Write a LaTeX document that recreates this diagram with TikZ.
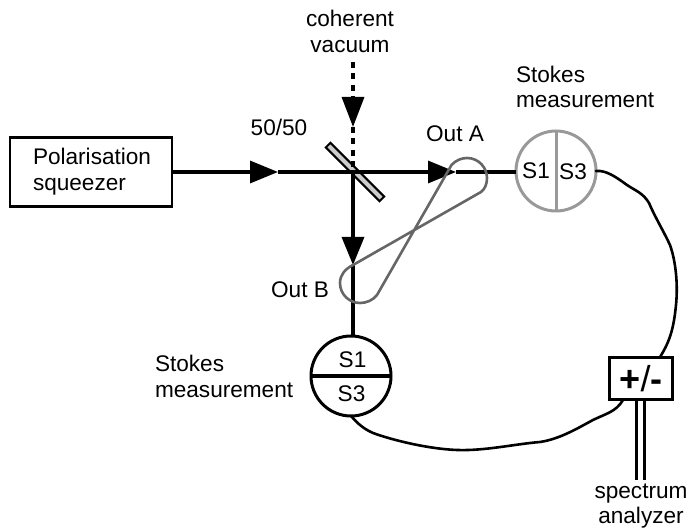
\documentclass[tikz,border=0pt]{standalone}
\usepackage{fontspec}
\setmainfont{Liberation Sans}
\usetikzlibrary{arrows.meta}
\definecolor{loopgray}{HTML}{666666}
\definecolor{detgray}{HTML}{999999}
\definecolor{bsgray}{HTML}{CCCCCC}
\tikzset{
  x=1pt,y=-1pt,
  txt/.style={inner sep=0pt,outer sep=0pt,font=\fontsize{22.6}{26}\selectfont},
  beam/.style={line width=3.3pt},
  tipped/.style={beam,-{Triangle[length=28pt,width=22pt,sep=0pt]}},
  cable/.style={line width=2.6pt,line cap=round},
  detector/.style={circle,minimum size=80pt,inner sep=0pt,outer sep=0pt,line width=3pt},
}
\begin{document}
\begin{tikzpicture}
\useasboundingbox (0,0) rectangle (689,529);
% elements
\node[draw,line width=2.4pt,minimum width=162pt,minimum height=69pt,inner sep=0pt,outer sep=0pt] (squeezer) at (91,172) {};
\node[txt,align=left,anchor=west] (sqtext) at (33,172) {Polarisation\\squeezer};
\node[draw,fill=bsgray,line width=2pt,minimum width=76pt,minimum height=6.5pt,inner sep=0pt,outer sep=0pt,rotate=-45] (bs) at (355,172) {};
\node[detector,draw=detgray] (detA) at (556,171) {};
\node[detector,draw=black] (detB) at (351,376) {};
\node[draw,line width=2.4pt,fill=white,minimum width=63pt,minimum height=42pt,inner sep=0pt,outer sep=0pt,font=\fontsize{36}{38}\selectfont] (diff) at (641,378.5) {\textbf{+}/\textbf{-}};
% named free ends
\coordinate (vacstart) at (353,62);
\coordinate (vactip) at (353,127);
\coordinate (bscentre) at (353,172);
\coordinate (tipone) at (278,172);
\coordinate (tipA) at (456,172);
\coordinate (tipB) at (353,265);
\coordinate (sa1) at (636.5,480);
\coordinate (sa2) at (644.5,480);
\coordinate (cabin) at (660,357);
% beams
\draw[beam,dash pattern=on 6pt off 5.5pt] (vactip) -- (bscentre);
\draw[tipped,dash pattern=on 6pt off 5.5pt,-{Triangle[length=30pt,width=22pt,sep=0pt]}] (vacstart) -- (vactip);
\draw[tipped] (squeezer.east) -- (tipone);
\draw[beam] (tipone) -- (bscentre);
\draw[tipped] (bscentre) -- (tipA);
\draw[beam] (tipA) -- (tipA -| detA.west);
\draw[tipped] (bscentre) -- (tipB);
\draw[beam] (tipB) -- (tipB |- detB.north);
% fibre loop
\draw[loopgray,line width=2.6pt,line join=round]
  (451.5,165) .. controls (456,160) and (462,158) .. (467,158)
  .. controls (479,158) and (487,168) .. (487,178)
  .. controls (487,184) and (485,189) .. (481,192)
  -- (353,265)
  .. controls (345,269) and (340,275) .. (340,283)
  .. controls (340,295) and (350,303) .. (360,303)
  .. controls (367,303) and (373,300) .. (377,295)
  -- cycle;
% detector dividers and labels
\draw[detgray,line width=3pt] (detA.north) -- (detA.south);
\draw[black,line width=3.4pt] (detB.west) -- (detB.east);
\node[txt] (a1) at (536,171) {S1};
\node[txt] (a3) at (573,172) {S3};
\node[txt] (b1) at (352.5,360) {S1};
\node[txt] (b3) at (351.5,394) {S3};
% cables
\draw[cable] (detA.east) .. controls (606,170) and (616,177) .. (627,185)
  .. controls (636,191) and (643,193) .. (649,203)
  .. controls (655,217) and (664,232) .. (670,245)
  .. controls (676,262) and (678,285) .. (676,305)
  .. controls (674,325) and (671,340) .. (cabin);
\draw[cable] (detB.south) .. controls (358,424) and (364,429) .. (373,433)
  .. controls (395,441) and (430,449) .. (457,450)
  .. controls (485,451) and (515,444) .. (540,442)
  .. controls (560,439) and (578,428) .. (593,420)
  .. controls (605,414) and (616,412) .. (623,400);
% output lines
\draw[line width=3pt] (diff.south -| sa1) -- (sa1);
\draw[line width=3pt] (diff.south -| sa2) -- (sa2);
% labels
\node[txt,align=center] (lvac) at (350,31) {coherent\\vacuum};
\node[txt] (l50) at (279,127) {50/50};
\node[txt] (lA) at (455,134) {Out A};
\node[txt] (lB) at (300,290) {Out B};
\node[txt,align=left,anchor=west] (lsa) at (516,87) {Stokes\\[-1.5pt]measurement};
\node[txt,align=left,anchor=west] (lsb) at (155,376) {Stokes\\measurement};
\node[txt,align=center] (lan) at (641,506) {spectrum\\[-1pt]analyzer};
\end{tikzpicture}
\end{document}
